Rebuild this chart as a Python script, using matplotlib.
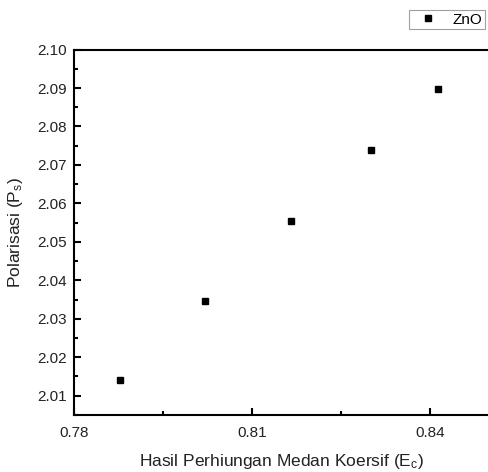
import matplotlib
matplotlib.use('Agg')
import matplotlib.pyplot as plt
from matplotlib.ticker import MultipleLocator

plt.rcParams['font.family'] = ['Liberation Sans', 'DejaVu Sans']
plt.rcParams['mathtext.default'] = 'regular'

# data
ec = [0.7878, 0.8020, 0.8166, 0.8300, 0.8413]
ps = [2.0141, 2.0345, 2.0555, 2.0739, 2.0897]
series_name = 'ZnO'

fig = plt.figure(figsize=(4.88, 4.72), dpi=100)
ax = fig.add_axes([0.151, 0.121, 0.853, 0.774])

ax.plot(ec, ps, 's', color='black', markersize=5, label=series_name)

ax.set_xlim(0.78, 0.85)
ax.set_ylim(2.005, 2.10)
ax.xaxis.set_major_locator(MultipleLocator(0.03))
ax.xaxis.set_minor_locator(MultipleLocator(0.015))
ax.yaxis.set_major_locator(MultipleLocator(0.01))
ax.yaxis.set_minor_locator(MultipleLocator(0.005))
ax.xaxis.set_major_formatter(plt.FormatStrFormatter('%.2f'))
ax.yaxis.set_major_formatter(plt.FormatStrFormatter('%.2f'))

for s in ax.spines.values():
    s.set_linewidth(1.5)
ax.tick_params(which='both', direction='in', width=1.5, labelsize=11,
               labelcolor='#222222', colors='black')
ax.tick_params(axis='y', pad=5)
ax.tick_params(axis='x', pad=8)
ax.tick_params(which='major', length=5)
ax.tick_params(which='minor', length=3)

ax.set_xlabel('Hasil Perhiungan Medan Koersif (E$_c$)', fontsize=12.5,
              labelpad=9, color='#222222')
ax.set_ylabel('Polarisasi (P$_s$)', fontsize=12.5, labelpad=9, color='#222222')

leg = ax.legend(loc='upper right', bbox_to_anchor=(0.993, 0.978),
                bbox_transform=fig.transFigure, fontsize=11, frameon=True,
                fancybox=False, borderpad=0.15, handletextpad=0.5,
                handlelength=2.2, borderaxespad=0)
leg.get_frame().set_edgecolor('#888888')
leg.get_frame().set_linewidth(0.8)

fig.savefig('out.png', dpi=100)
